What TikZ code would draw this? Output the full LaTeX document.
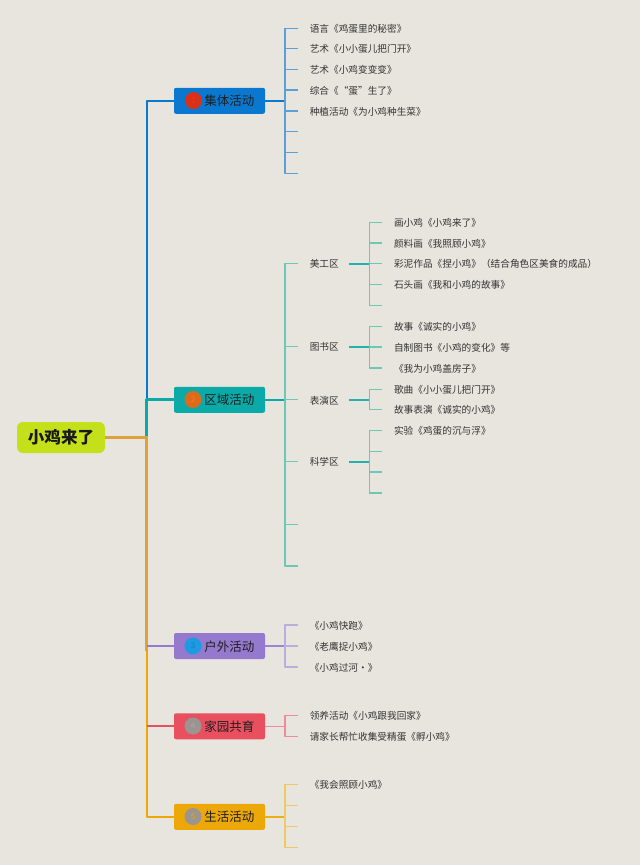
\documentclass[tikz,border=0pt]{standalone}
\usepackage{fontspec}
\setmainfont{Noto Sans CJK SC}
\definecolor{bgc}{HTML}{E7E5DE}
\definecolor{cblue}{HTML}{0B78D0}
\definecolor{cteal}{HTML}{0BAAA8}
\definecolor{cpurple}{HTML}{9479CF}
\definecolor{cred}{HTML}{E8505F}
\definecolor{cyel}{HTML}{EBA808}
\definecolor{corange}{HTML}{DDA23C}
\definecolor{rootc}{HTML}{C4E01A}
\definecolor{lblue}{HTML}{5A9FD6}
\definecolor{lteal}{HTML}{6CC7B7}
\definecolor{lpurple}{HTML}{B9AEDD}
\definecolor{lred}{HTML}{EC8C98}
\definecolor{lyel}{HTML}{EFC868}
\definecolor{bred}{HTML}{D9301A}
\definecolor{borange}{HTML}{DB6A1C}
\definecolor{bblue}{HTML}{1E9BE0}
\definecolor{bgrey}{HTML}{9A9590}
\tikzset{
  x=0.75pt,y=-0.75pt,
  rootbox/.style={rounded corners=4.5pt,fill=rootc,minimum width=66pt,minimum height=23.25pt,inner sep=0,font=\fontsize{12.4pt}{14pt}\selectfont\bfseries,text=black!90},
  topicbox/.style={rounded corners=1.5pt,fill=#1,minimum width=68.25pt,minimum height=19.5pt,inner sep=0},
  topiclabel/.style={anchor=west,inner sep=0,font=\fontsize{9.4pt}{11pt}\selectfont,text=black!88},
  badge/.style={circle,fill=#1,minimum size=12.75pt,inner sep=0,font=\fontsize{6pt}{7pt}\selectfont},
  leaf/.style={anchor=west,inner sep=0,font=\fontsize{7.25pt}{9pt}\selectfont,text=black!80},
  main/.style={line width=1.5pt,#1,line join=round},
  sub/.style={line width=1pt,#1,line join=round},
  stem/.style={line width=1.2pt,#1},
  trunk/.style={line width=2.1pt,#1,line join=round}
}
% prefix, spine x, top y, bottom y, colour, list of y/label
\newcommand{\leafgroup}[6]{%
  \draw[sub=#5] (#2+13,#3) -- (#2,#3) -- (#2,#4) -- (#2+13,#4);
  \foreach \yy/\tt [count=\ii] in {#6} {%
    \coordinate (#1s\ii) at (#2+13,\yy);
    \draw[sub=#5] (#2,\yy) -- (#1s\ii);
    \node[leaf] (#1n\ii) at (#2+24.5,\yy+0.5) {\tt};
  }%
}
\begin{document}
\begin{tikzpicture}
\useasboundingbox[fill=bgc] (0,0) rectangle (640,865);
\node[rootbox] (root) at (61,437.5) {小鸡来了};
\node[topicbox=cblue] (t1) at (219.5,100.8) {};
\node[topicbox=cteal] (t2) at (219.5,399.8) {};
\node[topicbox=cpurple] (t3) at (219.5,646) {};
\node[topicbox=cred] (t4) at (219.5,726.3) {};
\node[topicbox=cyel] (t5) at (219.5,816.8) {};
\coordinate (J) at (146.5,437.5);
% main branches
\draw[main=cblue] (t1.west) -| (146.5,399.5);
\draw[main=cyel] (t5.west) -| (146.5,646);
\draw[main=cred] (t4.west) -- (146.5,726.3);
\draw[trunk=cteal] (t2.west) -| (J);
\draw[line width=2.4pt,corange] (root.east) -- (J) -- (146.5,651);
\draw[trunk=cpurple] (t3.west) -- (146.5,646);
% badges and labels
\node[badge=bred,text=red!60!orange] (b1) at (193.5,100.5) {1};
\node[badge=borange,text=orange] (b2) at (193,399.5) {2};
\node[badge=bblue,text=cyan!60!blue] (b3) at (193,646) {3};
\node[badge=bgrey,text=black!35] (b4) at (193,726) {4};
\node[badge=bgrey,text=cyel] (b5) at (193,816.5) {5};
\node[topiclabel] (l1) at (204,101) {集体活动};
\node[topiclabel] (l2) at (204,400) {区域活动};
\node[topiclabel] (l3) at (204,647) {户外活动};
\node[topiclabel] (l4) at (204,727) {家园共育};
\node[topiclabel] (l5) at (204,817) {生活活动};
% group 1
\coordinate (sp1) at (285,100.8);
\draw[stem=cblue] (t1.east) -- (sp1);
\leafgroup{a}{285}{28.3}{173.3}{lblue}{28.3/语言《鸡蛋里的秘密》,48.7/艺术《小小蛋儿把门开》,69.3/艺术《小鸡变变变》,90/综合《“蛋”生了》,111/种植活动《为小鸡种生菜》,131.7/,152.7/,173.3/}
% group 2
\coordinate (sp2) at (285,399.8);
\draw[stem=cteal] (t2.east) -- (sp2);
\leafgroup{b}{285}{263.7}{566}{lteal}{263.7/美工区,346.7/图书区,399.8/表演区,461.7/科学区,524.3/,566/}
\draw[stem=cteal!75!lteal] (bs1) ++(51,0) -- ++(20.3,0);
\draw[stem=cteal!75!lteal] (bs2) ++(51,0) -- ++(20.3,0);
\draw[stem=cteal!75!lteal] (bs3) ++(51,0) -- ++(20.3,0);
\draw[stem=cteal!75!lteal] (bs4) ++(51,0) -- ++(20.3,0);
\leafgroup{d}{369.3}{222.3}{305.5}{lteal}{222.3/画小鸡《小鸡来了》,243/颜料画《我照顾小鸡》,263.7/彩泥作品《捏小鸡》（结合角色区美食的成品）,284.5/石头画《我和小鸡的故事》,305.5/}
\leafgroup{e}{369.3}{326.7}{368}{lteal}{326.7/故事《诚实的小鸡》,347/自制图书《小鸡的变化》等,368/《我为小鸡盖房子》}
\leafgroup{f}{369.3}{389.3}{409.7}{lteal}{389.3/歌曲《小小蛋儿把门开》,409.7/故事表演《诚实的小鸡》}
\leafgroup{g}{369.3}{430.7}{493}{lteal}{430.7/实验《鸡蛋的沉与浮》,451.3/,472/,493/}
% group 3
\coordinate (sp3) at (285,646);
\draw[stem=cpurple!80!lpurple] (t3.east) -- (sp3);
\leafgroup{h}{285}{625}{667}{lpurple}{625/《小鸡快跑》,646/《老鹰捉小鸡》,667/《小鸡过河·》}
% group 4
\coordinate (sp4) at (285,726.3);
\draw[stem=lred] (t4.east) -- (sp4);
\leafgroup{i}{285}{715.3}{736.7}{lred}{715.3/领养活动《小鸡跟我回家》,736.7/请家长帮忙收集受精蛋《孵小鸡》}
% group 5
\coordinate (sp5) at (285,816.8);
\draw[stem=cyel!80!lyel] (t5.east) -- (sp5);
\leafgroup{j}{285}{784.3}{847.7}{lyel}{784.3/《我会照顾小鸡》,805.7/,826.7/,847.7/}
\end{tikzpicture}
\end{document}
